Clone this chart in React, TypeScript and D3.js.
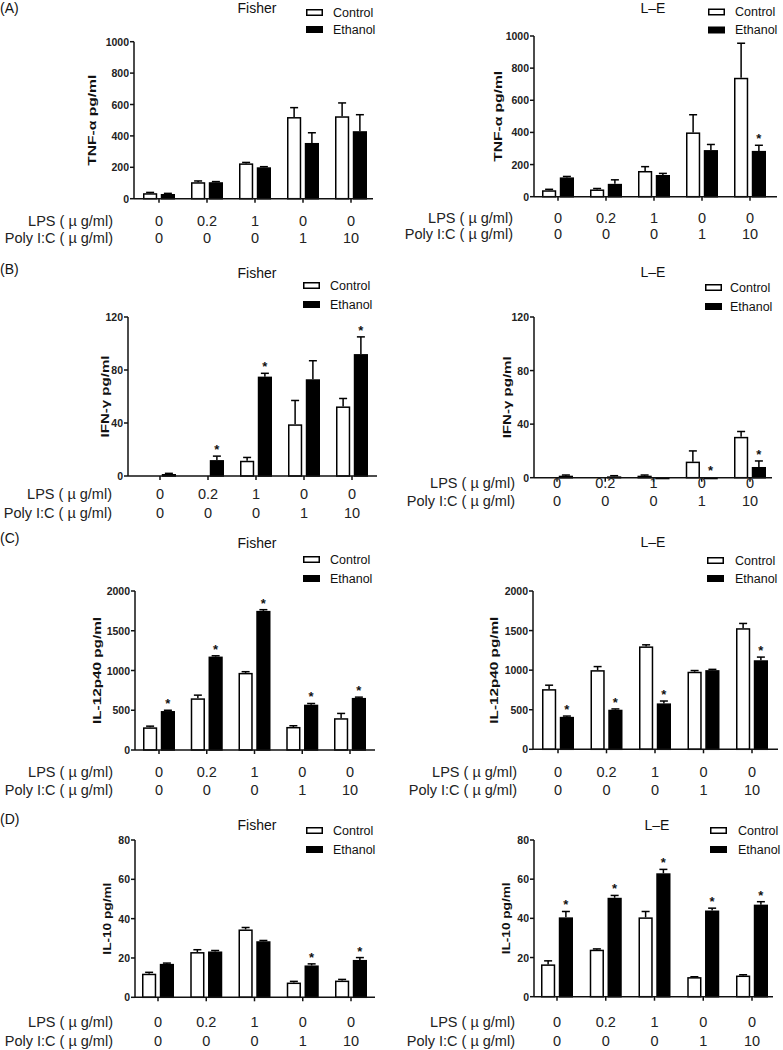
import React from 'react';
import * as d3 from 'd3';

// ---------- categories / labels ----------
const groups = ['g1', 'g2', 'g3', 'g4', 'g5'];
const lpsLabels = ['0', '0.2', '1', '0', '0'];
const polyLabels = ['0', '0', '0', '1', '10'];
const seriesNames = ['Control', 'Ethanol'];
const strains = ['Fisher', 'L\u2013E'];
const panelLetters = ['(A)', '(B)', '(C)', '(D)'];
const yLabels = ['TNF-\u03b1 pg/ml', 'IFN-\u03b3 pg/ml', 'IL-12p40 pg/ml', 'IL-10 pg/ml'];
const tnfTicks = [0, 200, 400, 600, 800, 1000];
const ifnTicks = [0, 40, 80, 120];
const il12Ticks = [0, 500, 1000, 1500, 2000];
const il10Ticks = [0, 20, 40, 60, 80];

// ---------- TNF-α ----------
const tnfFisherControl = [35, 105, 225, 520, 525];
const tnfFisherControlErr = [5, 8, 6, 60, 85];
const tnfFisherEthanol = [30, 105, 200, 355, 430];
const tnfFisherEthanolErr = [4, 4, 4, 65, 105];
const tnfFisherStars = [0, 0, 0, 0, 0];
const tnfLEControl = [40, 45, 160, 400, 740];
const tnfLEControlErr = [6, 6, 27, 110, 215];
const tnfLEEthanol = [120, 80, 135, 290, 285];
const tnfLEEthanolErr = [6, 25, 10, 35, 35];
const tnfLEStars = [0, 0, 0, 0, 1];

// ---------- IFN-γ ----------
const ifnFisherControl = [0, 0, 11.5, 39, 52.5];
const ifnFisherControlErr = [0, 0, 2.5, 18, 6];
const ifnFisherEthanol = [1.5, 12, 75, 73, 92];
const ifnFisherEthanolErr = [0.5, 3, 2.5, 14, 13];
const ifnFisherStars = [0, 1, 1, 0, 1];
const ifnLEControl = [0, 0, 1.5, 12, 30.5];
const ifnLEControlErr = [0, 0, 0.5, 8, 4];
const ifnLEEthanol = [1.5, 1, 0.3, 0.3, 8];
const ifnLEEthanolErr = [0.5, 0.5, 0, 0, 4.5];
const ifnLEStars = [0, 0, 0, 1, 1];

// ---------- IL-12p40 ----------
const il12FisherControl = [285, 650, 970, 290, 400];
const il12FisherControlErr = [15, 40, 15, 15, 60];
const il12FisherEthanol = [490, 1175, 1750, 570, 655];
const il12FisherEthanolErr = [10, 10, 15, 15, 10];
const il12FisherStars = [1, 1, 1, 1, 1];
const il12LEControl = [760, 1000, 1300, 980, 1530];
const il12LEControlErr = [50, 45, 20, 15, 60];
const il12LEEthanol = [410, 500, 580, 1000, 1125];
const il12LEEthanolErr = [10, 10, 30, 10, 40];
const il12LEStars = [1, 1, 1, 0, 1];

// ---------- IL-10 ----------
const il10FisherControl = [12, 23, 34.5, 7.5, 8.5];
const il10FisherControlErr = [0.7, 1.2, 1, 0.6, 0.6];
const il10FisherEthanol = [17, 23.3, 28.5, 16.2, 19];
const il10FisherEthanolErr = [0.4, 0.5, 0.4, 0.8, 1.2];
const il10FisherStars = [0, 0, 0, 1, 1];
const il10LEControl = [16.5, 24, 40.5, 10, 10.8];
const il10LEControlErr = [1.8, 0.4, 3, 0.2, 0.4];
const il10LEEthanol = [40.5, 50.5, 63, 44, 47];
const il10LEEthanolErr = [3, 1.2, 2, 1.2, 1.5];
const il10LEStars = [1, 1, 1, 1, 1];

type Layout = {
  axisX: number; xEnd: number; yTop: number; yZero: number; g0: number; g1: number;
  titleX: number; titleY: number; legX: number; legY: number; legY2: number; legTextX: number;
  lpsY: number; polyY: number; labelRight: number; yLabelX: number; yLabelLen: number;
};

const FONT = "'Liberation Sans', Arial, Helvetica, sans-serif";

type PanelProps = {
  layout: Layout; ticks: number[]; yLabel: string; strain: string;
  control: number[]; controlErr: number[]; ethanol: number[]; ethanolErr: number[]; stars: number[];
};

function Panel({ layout: L, ticks, yLabel, strain, control, controlErr, ethanol, ethanolErr, stars }: PanelProps) {
  const yMax = ticks[ticks.length - 1];
  const y = d3.scaleLinear().domain([0, yMax]).range([L.yZero, L.yTop]);
  const x = d3.scalePoint<string>().domain(groups).range([L.g0, L.g1]);
  const sub = d3.scaleBand<string>().domain(seriesNames).range([-16, 16]).paddingInner(0.2);
  const bw = sub.bandwidth();
  const sw = 1.5;
  const series = [
    { name: 'Control', vals: control, errs: controlErr, fill: '#fff' },
    { name: 'Ethanol', vals: ethanol, errs: ethanolErr, fill: '#000' },
  ];
  const yMid = (L.yTop + L.yZero) / 2;
  return (
    <g>
      {/* title */}
      <text x={L.titleX} y={L.titleY} textAnchor="middle" fontSize={14} fill="#111">{strain}</text>
      {/* legend */}
      {series.map((s, i) => (
        <g key={s.name}>
          <rect x={L.legX + 0.75} y={(i === 0 ? L.legY : L.legY2) + 0.75} width={17 - 1.5} height={7 - 1.5}
            fill={s.fill} stroke="#000" strokeWidth={sw} />
          <text x={L.legTextX} y={(i === 0 ? L.legY : L.legY2) + 3.5} dominantBaseline="central"
            fontSize={12.5} fill="#111">{s.name}</text>
        </g>
      ))}
      {/* bars */}
      {series.map((s) => (
        <g key={s.name}>
          {groups.map((g, i) => {
            const cx = (x(g) as number) + (sub(s.name) as number);
            const top = y(s.vals[i]);
            const h = L.yZero - top;
            const errTop = y(s.vals[i] + s.errs[i]);
            const mid = cx + bw / 2;
            return (
              <g key={g}>
                {s.errs[i] > 0 && (
                  <g stroke="#000" strokeWidth={sw}>
                    <line x1={mid} x2={mid} y1={top} y2={errTop} />
                    <line x1={mid - 4} x2={mid + 4} y1={errTop} y2={errTop} />
                  </g>
                )}
                {h > 0 && (
                  <rect x={cx + sw / 2} y={top + sw / 2} width={bw - sw} height={Math.max(h - sw / 2, 0.5)}
                    fill={s.fill} stroke="#000" strokeWidth={sw} />
                )}
                {s.name === 'Ethanol' && stars[i] === 1 && (
                  <text x={mid} y={errTop - 2} textAnchor="middle" fontSize={13} fontWeight="bold" fill="#111">*</text>
                )}
              </g>
            );
          })}
        </g>
      ))}
      {/* y axis */}
      <line x1={L.axisX} x2={L.axisX} y1={L.yZero} y2={L.yTop} stroke="#111" strokeWidth={sw} />
      {ticks.map((t) => (
        <g key={t}>
          <line x1={L.axisX - 4} x2={L.axisX} y1={y(t)} y2={y(t)} stroke="#111" strokeWidth={sw} />
          <text x={L.axisX - 5} y={y(t)} textAnchor="end" dominantBaseline="central" fontSize={10.5}
            fontWeight="bold" fill="#222">{t}</text>
        </g>
      ))}
      {/* x axis */}
      <line x1={L.axisX} x2={L.xEnd} y1={L.yZero} y2={L.yZero} stroke="#111" strokeWidth={sw} />
      {groups.map((g) => (
        <line key={g} x1={x(g)} x2={x(g)} y1={L.yZero} y2={L.yZero + 4} stroke="#111" strokeWidth={sw} />
      ))}
      {/* y label */}
      <text transform={`translate(${L.yLabelX},${yMid}) rotate(-90)`} textAnchor="middle" dominantBaseline="central"
        fontSize={11} fontWeight="bold" fill="#111" textLength={L.yLabelLen} lengthAdjust="spacingAndGlyphs">{yLabel}</text>
      {/* category labels */}
      <text x={L.labelRight} y={L.lpsY} textAnchor="end" dominantBaseline="central" fontSize={14.5} fill="#222">LPS ( µ g/ml)</text>
      <text x={L.labelRight} y={L.polyY} textAnchor="end" dominantBaseline="central" fontSize={14.5} fill="#222">Poly I:C ( µ g/ml)</text>
      {groups.map((g, i) => (
        <g key={g}>
          <text x={x(g)} y={L.lpsY} textAnchor="middle" dominantBaseline="central" fontSize={14.5} fill="#222">{lpsLabels[i]}</text>
          <text x={x(g)} y={L.polyY} textAnchor="middle" dominantBaseline="central" fontSize={14.5} fill="#222">{polyLabels[i]}</text>
        </g>
      ))}
    </g>
  );
}

const layouts: Layout[][] = [
  [
    { axisX: 134, xEnd: 373, yTop: 41.7, yZero: 198.7, g0: 159, g1: 351, titleX: 257, titleY: 12.5, legX: 306, legY: 9, legY2: 26, legTextX: 333, lpsY: 221, polyY: 237.5, labelRight: 113, yLabelX: 92, yLabelLen: 91 },
    { axisX: 534, xEnd: 777, yTop: 36, yZero: 196.7, g0: 558, g1: 750, titleX: 653, titleY: 12.5, legX: 708, legY: 8.5, legY2: 26.5, legTextX: 735, lpsY: 217.5, polyY: 234, labelRight: 513, yLabelX: 498, yLabelLen: 91 },
  ],
  [
    { axisX: 128, xEnd: 377, yTop: 317, yZero: 476, g0: 160, g1: 352, titleX: 257, titleY: 278, legX: 303, legY: 282, legY2: 301, legTextX: 330, lpsY: 494, polyY: 512.5, labelRight: 112, yLabelX: 105, yLabelLen: 82 },
    { axisX: 534, xEnd: 772, yTop: 317, yZero: 477.7, g0: 557, g1: 750, titleX: 653, titleY: 277, legX: 705, legY: 284, legY2: 303, legTextX: 730, lpsY: 483, polyY: 501, labelRight: 515, yLabelX: 507, yLabelLen: 82 },
  ],
  [
    { axisX: 135, xEnd: 375, yTop: 591, yZero: 750, g0: 159, g1: 350, titleX: 257, titleY: 548, legX: 303, legY: 556, legY2: 575, legTextX: 330, lpsY: 771.5, polyY: 790, labelRight: 113, yLabelX: 97, yLabelLen: 107 },
    { axisX: 533, xEnd: 778, yTop: 591, yZero: 749.3, g0: 558, g1: 752, titleX: 653, titleY: 547, legX: 707, legY: 557, legY2: 575, legTextX: 735, lpsY: 771.5, polyY: 790, labelRight: 517, yLabelX: 494, yLabelLen: 107 },
  ],
  [
    { axisX: 135, xEnd: 375, yTop: 840, yZero: 997.3, g0: 158, g1: 351, titleX: 257, titleY: 830, legX: 306, legY: 827, legY2: 846, legTextX: 333, lpsY: 1022, polyY: 1041, labelRight: 113, yLabelX: 107, yLabelLen: 72 },
    { axisX: 534, xEnd: 773, yTop: 840, yZero: 996.7, g0: 557, g1: 752, titleX: 657, titleY: 830, legX: 710, legY: 827, legY2: 846, legTextX: 738, lpsY: 1022, polyY: 1041, labelRight: 515, yLabelX: 506, yLabelLen: 72 },
  ],
];

const letterY = [12.5, 274, 543, 824];

export default function App() {
  const rows = [
    { ticks: tnfTicks, sets: [
      [tnfFisherControl, tnfFisherControlErr, tnfFisherEthanol, tnfFisherEthanolErr, tnfFisherStars],
      [tnfLEControl, tnfLEControlErr, tnfLEEthanol, tnfLEEthanolErr, tnfLEStars]] },
    { ticks: ifnTicks, sets: [
      [ifnFisherControl, ifnFisherControlErr, ifnFisherEthanol, ifnFisherEthanolErr, ifnFisherStars],
      [ifnLEControl, ifnLEControlErr, ifnLEEthanol, ifnLEEthanolErr, ifnLEStars]] },
    { ticks: il12Ticks, sets: [
      [il12FisherControl, il12FisherControlErr, il12FisherEthanol, il12FisherEthanolErr, il12FisherStars],
      [il12LEControl, il12LEControlErr, il12LEEthanol, il12LEEthanolErr, il12LEStars]] },
    { ticks: il10Ticks, sets: [
      [il10FisherControl, il10FisherControlErr, il10FisherEthanol, il10FisherEthanolErr, il10FisherStars],
      [il10LEControl, il10LEControlErr, il10LEEthanol, il10LEEthanolErr, il10LEStars]] },
  ];
  return (
    <svg width={783} height={1050} style={{ position: 'absolute', left: 0, top: 0, background: '#fff' }}
      fontFamily={FONT}>
      <rect x={0} y={0} width={783} height={1050} fill="#fff" />
      {rows.map((r, ri) => (
        <g key={ri}>
          <text x={0} y={letterY[ri]} fontSize={14} fill="#111">{panelLetters[ri]}</text>
          {r.sets.map((s, si) => (
            <Panel key={si} layout={layouts[ri][si]} ticks={r.ticks} yLabel={yLabels[ri]} strain={strains[si]}
              control={s[0]} controlErr={s[1]} ethanol={s[2]} ethanolErr={s[3]} stars={s[4]} />
          ))}
        </g>
      ))}
    </svg>
  );
}
